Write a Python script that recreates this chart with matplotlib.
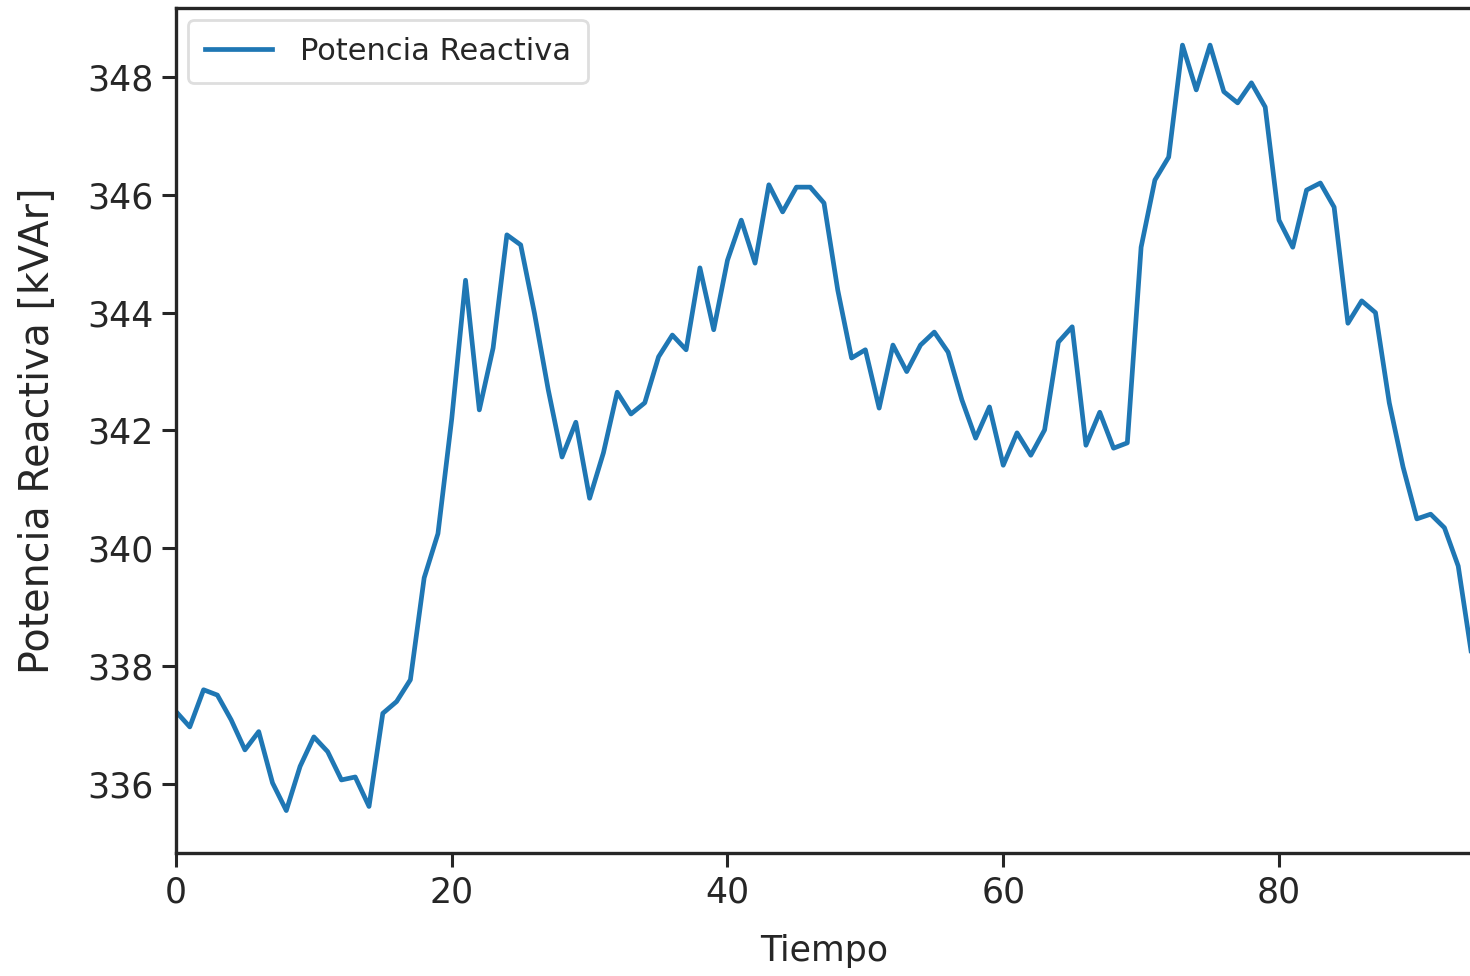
import matplotlib
matplotlib.use("Agg")
import matplotlib.pyplot as plt
import numpy as np

tiempo = list(range(95))
potencia_reactiva = [
    337.23, 336.97, 337.60, 337.51, 337.09, 336.58, 336.89, 336.02, 335.55, 336.30,
    336.80, 336.55, 336.07, 336.12, 335.62, 337.20, 337.40, 337.77, 339.50, 340.25,
    342.20, 344.55, 342.35, 343.40, 345.32, 345.15, 343.99, 342.69, 341.55, 342.14,
    340.85, 341.62, 342.65, 342.28, 342.47, 343.25, 343.62, 343.37, 344.76, 343.71,
    344.89, 345.57, 344.84, 346.17, 345.71, 346.13, 346.13, 345.86, 344.38, 343.23,
    343.37, 342.38, 343.45, 343.00, 343.45, 343.67, 343.33, 342.52, 341.87, 342.40,
    341.41, 341.96, 341.58, 342.01, 343.50, 343.76, 341.75, 342.31, 341.70, 341.79,
    345.11, 346.25, 346.64, 348.54, 347.78, 348.54, 347.75, 347.56, 347.90, 347.49,
    345.57, 345.11, 346.08, 346.20, 345.79, 343.82, 344.20, 344.00, 342.47, 341.38,
    340.50, 340.58, 340.35, 339.70, 338.15,
]
y_ticks = [336, 338, 340, 342, 344, 346, 348]
x_ticks = [0, 20, 40, 60, 80]

plt.rcParams['font.family'] = ['DejaVu Sans']

fig = plt.figure(figsize=(14.7, 9.76), dpi=100)
ax = fig.add_axes([176 / 1470, 1 - 853 / 976, 1296 / 1470, 845 / 976])

ax.plot(tiempo, potencia_reactiva, color='#1f77b4', linewidth=3.4, label='Potencia Reactiva')

ax.set_xlim(0, 94)
ax.set_ylim(334.83, 349.17)
ax.set_xticks(x_ticks)
ax.set_yticks(y_ticks)

for s in ax.spines.values():
    s.set_color('#262626')
    s.set_linewidth(2.4)

ax.tick_params(axis='both', which='major', length=10, width=2.2, color='#262626',
               labelsize=25, labelcolor='#262626', pad=6)

ax.set_xlabel('Tiempo', fontsize=25, color='#262626', labelpad=18)
ax.set_ylabel('Potencia Reactiva [kVAr]', fontsize=28.5, color='#262626', labelpad=21)

leg = ax.legend(loc='upper left', fontsize=22, frameon=True, handlelength=2.2,
                borderpad=0.55, handletextpad=0.9, borderaxespad=0.4)
leg.get_frame().set_edgecolor('#d6d6d6')
leg.get_frame().set_linewidth(2.0)
for t in leg.get_texts():
    t.set_color('#262626')

fig.savefig('out.png', dpi=100)
